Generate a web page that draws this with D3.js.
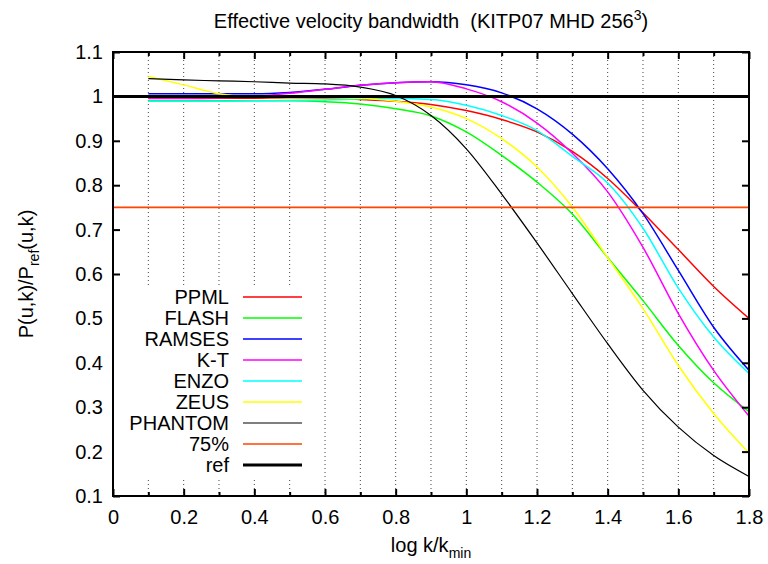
<!DOCTYPE html>
<html>
<head>
<meta charset="utf-8">
<script src="https://cdn.jsdelivr.net/npm/d3@7"></script>
<style>
body { margin: 0; background: #fff; }
text { font-family: "Liberation Sans", Arial, sans-serif; fill: #000; }
</style>
</head>
<body>
<div id="chart"></div>
<script>
const W = 768, H = 564;
const margin = {top: 52, right: 19, bottom: 68, left: 113};

// log k/kmin sample points
const kx = [0.1,0.2,0.3,0.4,0.5,0.6,0.7,0.8,0.9,1.0,1.1,1.2,1.3,1.4,1.5,1.6,1.7,1.8];

const ppml    = [0.995,0.995,0.996,0.996,0.997,0.996,0.993,0.989,0.982,0.968,0.948,0.920,0.876,0.815,0.738,0.655,0.572,0.500];
const flash   = [0.990,0.990,0.990,0.990,0.990,0.988,0.983,0.972,0.956,0.920,0.867,0.807,0.735,0.637,0.540,0.439,0.355,0.290];
const ramses  = [1.006,1.006,1.006,1.006,1.009,1.016,1.025,1.031,1.033,1.026,1.008,0.972,0.915,0.837,0.736,0.608,0.480,0.383];
const kt      = [0.996,0.996,0.997,1.000,1.007,1.016,1.025,1.031,1.033,1.017,0.988,0.940,0.872,0.785,0.660,0.511,0.383,0.280];
const enzo    = [0.989,0.989,0.989,0.990,0.991,0.992,0.994,0.995,0.993,0.980,0.957,0.923,0.865,0.805,0.703,0.568,0.458,0.376];
const zeus    = [1.045,1.026,1.006,0.998,0.997,0.997,0.996,0.989,0.976,0.950,0.905,0.841,0.751,0.637,0.522,0.394,0.286,0.197];
const phantom = [1.040,1.037,1.035,1.033,1.030,1.028,1.021,1.002,0.957,0.882,0.780,0.670,0.556,0.443,0.338,0.255,0.191,0.144];

const refX = [0, 1.8], refY = [1, 1];
const pctX = [0, 1.8], pctY = [0.75, 0.75];

const xTicks = [0,0.2,0.4,0.6,0.8,1,1.2,1.4,1.6,1.8];
const xMinor = [0.1,0.3,0.5,0.7,0.9,1.1,1.3,1.5,1.7];
const yTicks = [0.1,0.2,0.3,0.4,0.5,0.6,0.7,0.8,0.9,1,1.1];

const series = [
  {name: 'PPML',    xs: kx,   ys: ppml,    color: '#ff0000', w: 1.5},
  {name: 'FLASH',   xs: kx,   ys: flash,   color: '#00ff00', w: 1.5},
  {name: 'RAMSES',  xs: kx,   ys: ramses,  color: '#0000ff', w: 1.5},
  {name: 'K-T',     xs: kx,   ys: kt,      color: '#ff00ff', w: 1.5},
  {name: 'ENZO',    xs: kx,   ys: enzo,    color: '#00ffff', w: 1.5},
  {name: 'ZEUS',    xs: kx,   ys: zeus,    color: '#ffff00', w: 1.5},
  {name: 'PHANTOM', xs: kx,   ys: phantom, color: '#000000', w: 1.2},
  {name: '75%',     xs: pctX, ys: pctY,    color: '#ff4500', w: 1.6},
  {name: 'ref',     xs: refX, ys: refY,    color: '#000000', w: 3}
];

const fs = '20px';

let svg = d3.select('#chart').append('svg')
  .attr('width', W)
  .attr('height', H)

let x = d3.scaleLinear().domain([0, 1.8]).range([margin.left, W - margin.right])
let y = d3.scaleLinear().domain([0.1, 1.1]).range([H - margin.bottom, margin.top])

// dotted grid on every 0.1
svg.append('g')
  .selectAll('line')
  .data(xMinor.concat(xTicks.filter(t => t > 0 && t < 1.8)))
  .join('line')
  .attr('x1', d => x(d)).attr('x2', d => x(d))
  .attr('y1', y(1.1)).attr('y2', y(0.1))
  .attr('stroke', '#444')
  .attr('stroke-width', 1)
  .attr('stroke-dasharray', '1,3')

let line = d3.line()
  .x(d => x(d[0]))
  .y(d => y(d[1]))
  .curve(d3.curveMonotoneX)

series.forEach(s => {
  svg.append('path')
    .datum(s.xs.map((v, i) => [v, s.ys[i]]))
    .attr('fill', 'none')
    .attr('stroke', s.color)
    .attr('stroke-width', s.w)
    .attr('stroke-linejoin', 'round')
    .attr('d', line)
})

// axes (ticks pointing inward, gnuplot style)
svg.append('g')
  .attr('transform', `translate(0,${y(0.1)})`)
  .call(d3.axisBottom(x).tickValues(xTicks).tickSize(-7).tickPadding(14).tickFormat(d3.format('')))
svg.append('g')
  .attr('transform', `translate(0,${y(0.1)})`)
  .call(d3.axisBottom(x).tickValues(xMinor).tickSize(-4).tickFormat(''))
svg.append('g')
  .attr('transform', `translate(0,${y(1.1)})`)
  .call(d3.axisTop(x).tickValues(xTicks).tickSize(-7).tickFormat(''))
svg.append('g')
  .attr('transform', `translate(0,${y(1.1)})`)
  .call(d3.axisTop(x).tickValues(xMinor).tickSize(-4).tickFormat(''))
svg.append('g')
  .attr('transform', `translate(${x(0)},0)`)
  .call(d3.axisLeft(y).tickValues(yTicks).tickSize(-7).tickPadding(10).tickFormat(d3.format('')))
svg.append('g')
  .attr('transform', `translate(${x(1.8)},0)`)
  .call(d3.axisRight(y).tickValues(yTicks).tickSize(-7).tickFormat(''))

svg.selectAll('.domain').remove()
svg.selectAll('.tick line').attr('stroke', '#000').attr('stroke-width', 2)
svg.selectAll('.tick text').style('font-size', fs).style('font-family', '"Liberation Sans", Arial, sans-serif')

svg.append('rect')
  .attr('x', x(0)).attr('y', y(1.1))
  .attr('width', x(1.8) - x(0)).attr('height', y(0.1) - y(1.1))
  .attr('fill', 'none')
  .attr('stroke', '#000')
  .attr('stroke-width', 2)

// legend, white box over the grid
let lg = svg.append('g')
lg.append('rect')
  .attr('x', x(0) + 1).attr('y', 288)
  .attr('width', 198).attr('height', 189)
  .attr('fill', '#fff')

series.forEach((s, i) => {
  let ly = 297 + i * 21
  lg.append('text')
    .attr('x', 229).attr('y', ly)
    .attr('dy', '0.36em')
    .attr('text-anchor', 'end')
    .style('font-size', fs)
    .text(s.name)
  lg.append('line')
    .attr('x1', 243).attr('x2', 302)
    .attr('y1', ly).attr('y2', ly)
    .attr('stroke', s.color)
    .attr('stroke-width', s.w)
})

// title and axis labels
let title = svg.append('text')
  .attr('x', 431).attr('y', 28)
  .attr('text-anchor', 'middle')
  .style('font-size', fs)
title.append('tspan').text('Effective velocity bandwidth \u00a0(KITP07 MHD 256')
title.append('tspan').attr('dy', -8).style('font-size', '14px').text('3')
title.append('tspan').attr('dy', 8).text(')')

let xl = svg.append('text')
  .attr('x', 431).attr('y', 552)
  .attr('text-anchor', 'middle')
  .style('font-size', fs)
xl.append('tspan').text('log k/k')
xl.append('tspan').attr('dy', 6).style('font-size', '14px').text('min')

let yl = svg.append('text')
  .attr('transform', `translate(33,${y(0.6)}) rotate(-90)`)
  .attr('text-anchor', 'middle')
  .style('font-size', fs)
yl.append('tspan').text('P(u,k)/P')
yl.append('tspan').attr('dy', 6).style('font-size', '14px').text('ref')
yl.append('tspan').attr('dy', -6).text('(u,k)')
</script>
</body>
</html>
